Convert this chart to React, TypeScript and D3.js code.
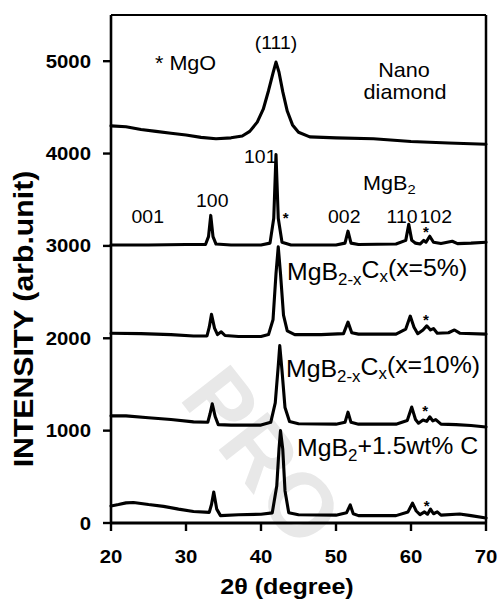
import React from "react";
import * as d3 from "d3";

type P = [number, number];

const xTicks = [20, 30, 40, 50, 60, 70];
const yTicks = [0, 1000, 2000, 3000, 4000, 5000];

const nanoDiamond: P[] = [
  [20, 4300], [22, 4290], [24, 4260], [26, 4240], [28, 4220], [30, 4200], [32, 4175], [34, 4160],
  [36, 4170], [37.5, 4190], [38.5, 4240], [39.5, 4340], [40.3, 4480], [41, 4680], [41.6, 4870],
  [42.0, 4990], [42.4, 4880], [42.9, 4670], [43.5, 4460], [44.2, 4310], [45, 4230], [46.5, 4180],
  [50, 4170], [55, 4160], [60, 4130], [65, 4115], [70, 4100],
];

const mgb2: P[] = [
  [20, 3010], [25, 3010], [30, 3015], [32.6, 3015], [33.0, 3100], [33.3, 3330], [33.6, 3100],
  [34, 3020], [36, 3010], [40, 3010], [41.2, 3030], [41.7, 3300], [42.0, 3990], [42.3, 3300],
  [42.8, 3040], [44, 3010], [50, 3010], [51.2, 3030], [51.6, 3160], [52.0, 3030], [53, 3015],
  [58, 3020], [59.3, 3060], [59.7, 3235], [60.1, 3060], [60.6, 3030], [61.2, 3020], [61.7, 3060],
  [62.0, 3040], [62.5, 3105], [63.0, 3040], [64, 3025], [65.5, 3050], [66.2, 3025], [68, 3030],
  [70, 3040],
];

const mgb2c5: P[] = [
  [20, 2055], [24, 2050], [28, 2040], [31, 2025], [32.8, 2025], [33.1, 2120], [33.4, 2260],
  [33.8, 2110], [34.2, 2040], [34.7, 2070], [35.2, 2030], [37, 2020], [40, 2020], [41, 2040],
  [41.6, 2200], [42.0, 2700], [42.3, 2990], [42.6, 2700], [43.0, 2250], [43.5, 2080], [44.5, 2040],
  [48, 2040], [51, 2050], [51.6, 2175], [52.1, 2060], [53, 2045], [58, 2045], [59.3, 2100],
  [59.9, 2240], [60.4, 2120], [60.9, 2050], [61.6, 2090], [62.1, 2135], [62.6, 2090], [63.0, 2105],
  [63.5, 2055], [65, 2060], [65.8, 2090], [66.5, 2055], [70, 2045],
];

const mgb2c10: P[] = [
  [20, 1160], [22, 1160], [25, 1140], [28, 1120], [31, 1095], [32.9, 1090], [33.2, 1180],
  [33.5, 1290], [33.9, 1150], [34.3, 1065], [36, 1060], [40, 1060], [41.3, 1090], [41.9, 1300],
  [42.3, 1700], [42.5, 1920], [42.8, 1650], [43.2, 1250], [43.8, 1100], [45, 1075], [50, 1070],
  [51.2, 1090], [51.6, 1200], [52.0, 1090], [53, 1070], [58, 1070], [59.5, 1110], [60.1, 1255],
  [60.6, 1120], [61.0, 1080], [61.6, 1115], [62.1, 1100], [62.5, 1150], [62.9, 1105], [63.3, 1120],
  [64, 1070], [66, 1065], [68, 1055], [70, 1040],
];

const mgb2wt: P[] = [
  [20, 185], [21, 200], [22, 218], [23, 222], [24, 212], [25, 200], [27, 180], [29, 150], [31, 125],
  [33.1, 115], [33.4, 200], [33.7, 335], [34.1, 150], [34.6, 80], [37, 90], [40, 95], [41.5, 110],
  [42.1, 400], [42.4, 800], [42.6, 1000], [42.9, 800], [43.2, 350], [43.7, 110], [45, 90], [50, 85],
  [51.4, 110], [51.9, 195], [52.3, 100], [53, 80], [58, 80], [59.6, 120], [60.2, 215], [60.7, 130],
  [61.2, 90], [61.8, 120], [62.2, 95], [62.6, 150], [63.0, 100], [63.5, 120], [64, 85], [66.5, 97],
  [68, 80], [70, 55],
];

const series = [nanoDiamond, mgb2, mgb2c5, mgb2c10, mgb2wt];

// MgO star markers: [2θ, intensity]
const stars: P[] = [[43.3, 3330], [62.0, 3182], [62.0, 2229], [61.9, 1245], [62.1, 216]];

// Miller index labels for MgB2: [text, 2θ, intensity]
const hklLabels: [string, number, number][] = [
  ["001", 24.9, 3250], ["100", 33.5, 3420], ["101", 39.9, 3900],
  ["002", 51.1, 3250], ["110", 58.8, 3250], ["102", 63.3, 3250],
];

const FONT = "'Liberation Sans', Arial, Helvetica, sans-serif";

function T(props: {
  x: number; y: number; size: number; anchor?: string; weight?: string; sx?: number;
  children: React.ReactNode; rotate?: number; fill?: string;
}) {
  const { x, y, size, anchor = "start", weight = "normal", sx = 1.08, rotate = 0, fill = "#000" } = props;
  return (
    <text
      transform={`translate(${x},${y}) rotate(${rotate}) scale(${sx},1)`}
      fontSize={size}
      fontWeight={weight}
      textAnchor={anchor}
      fontFamily={FONT}
      fill={fill}
    >
      {props.children}
    </text>
  );
}

export default function App() {
  const W = 498, H = 599;
  const x = d3.scaleLinear().domain([20, 70]).range([111, 486]);
  const y = d3.scaleLinear().domain([0, 5500]).range([523, 15]);
  const line = d3.line<P>().x((d) => x(d[0])).y((d) => y(d[1])).curve(d3.curveLinear);

  const sub = (s: string) => (
    <tspan fontSize="0.68em" dy="0.3em">{s}</tspan>
  );

  return (
    <svg width={W} height={H} style={{ position: "absolute", left: 0, top: 0, background: "#fff" }}>
      <rect x={0} y={0} width={W} height={H} fill="#fff" />
      {/* watermark */}
      <T x={178} y={398} size={90} weight="bold" rotate={52} sx={1} fill="#e8e8e8">PRO</T>

      {/* frame */}
      <line x1={x(20)} x2={x(70)} y1={y(5500)} y2={y(5500)} stroke="#000" strokeWidth={2.2} />
      <line x1={x(70)} x2={x(70)} y1={y(5500)} y2={y(0)} stroke="#000" strokeWidth={2.5} />
      <line x1={x(20)} x2={x(20)} y1={y(5500)} y2={y(0)} stroke="#000" strokeWidth={2.6} />
      <line x1={x(20) - 1} x2={x(70) + 1} y1={y(0)} y2={y(0)} stroke="#000" strokeWidth={3} />

      {yTicks.map((t) => (
        <g key={"y" + t}>
          <line x1={x(20) - 8} x2={x(20)} y1={y(t)} y2={y(t)} stroke="#000" strokeWidth={2.4} />
          <T x={91} y={y(t) + 6.5} size={18.5} weight="bold" anchor="end" sx={1.1}>{t}</T>
        </g>
      ))}
      {xTicks.map((t) => (
        <g key={"x" + t}>
          <line x1={x(t)} x2={x(t)} y1={y(0)} y2={y(0) + 8} stroke="#000" strokeWidth={2.4} />
          <T x={x(t)} y={563} size={18.5} weight="bold" anchor="middle" sx={1.1}>{t}</T>
        </g>
      ))}

      {series.map((s, i) => (
        <path key={i} d={line(s) || ""} fill="none" stroke="#000" strokeWidth={3.1}
          strokeLinejoin="round" strokeLinecap="round" />
      ))}

      {stars.map((s, i) => (
        <T key={"s" + i} x={x(s[0])} y={y(s[1]) + 8} size={15} anchor="middle" sx={1} weight="bold">*</T>
      ))}

      {hklLabels.map(([t, a, b]) => (
        <T key={t} x={x(a)} y={y(b)} size={18} anchor="middle">{t}</T>
      ))}

      <T x={155} y={70} size={20}>* MgO</T>
      <T x={276} y={49} size={18} anchor="middle">(111)</T>
      <T x={404} y={77} size={20} anchor="middle">Nano</T>
      <T x={405} y={99} size={20} anchor="middle">diamond</T>
      <T x={363} y={190} size={20}>MgB{sub("2")}</T>
      <T x={287} y={280} size={23}>MgB{sub("2-x")}<tspan dy="-0.3em">C</tspan>{sub("x")}<tspan dy="-0.3em">(x=5%)</tspan></T>
      <T x={286} y={377} size={23}>MgB{sub("2-x")}<tspan dy="-0.3em">C</tspan>{sub("x")}<tspan dy="-0.3em">(x=10%)</tspan></T>
      <T x={297} y={456} size={23}>MgB{sub("2")}<tspan dy="-0.3em">+1.5wt% C</tspan></T>

      <T x={33} y={319} size={28} weight="bold" anchor="middle" rotate={-90} sx={1.08}>INTENSITY (arb.unit)</T>
      <T x={287} y={594} size={22} weight="bold" anchor="middle" sx={1.14}>2θ (degree)</T>
    </svg>
  );
}
